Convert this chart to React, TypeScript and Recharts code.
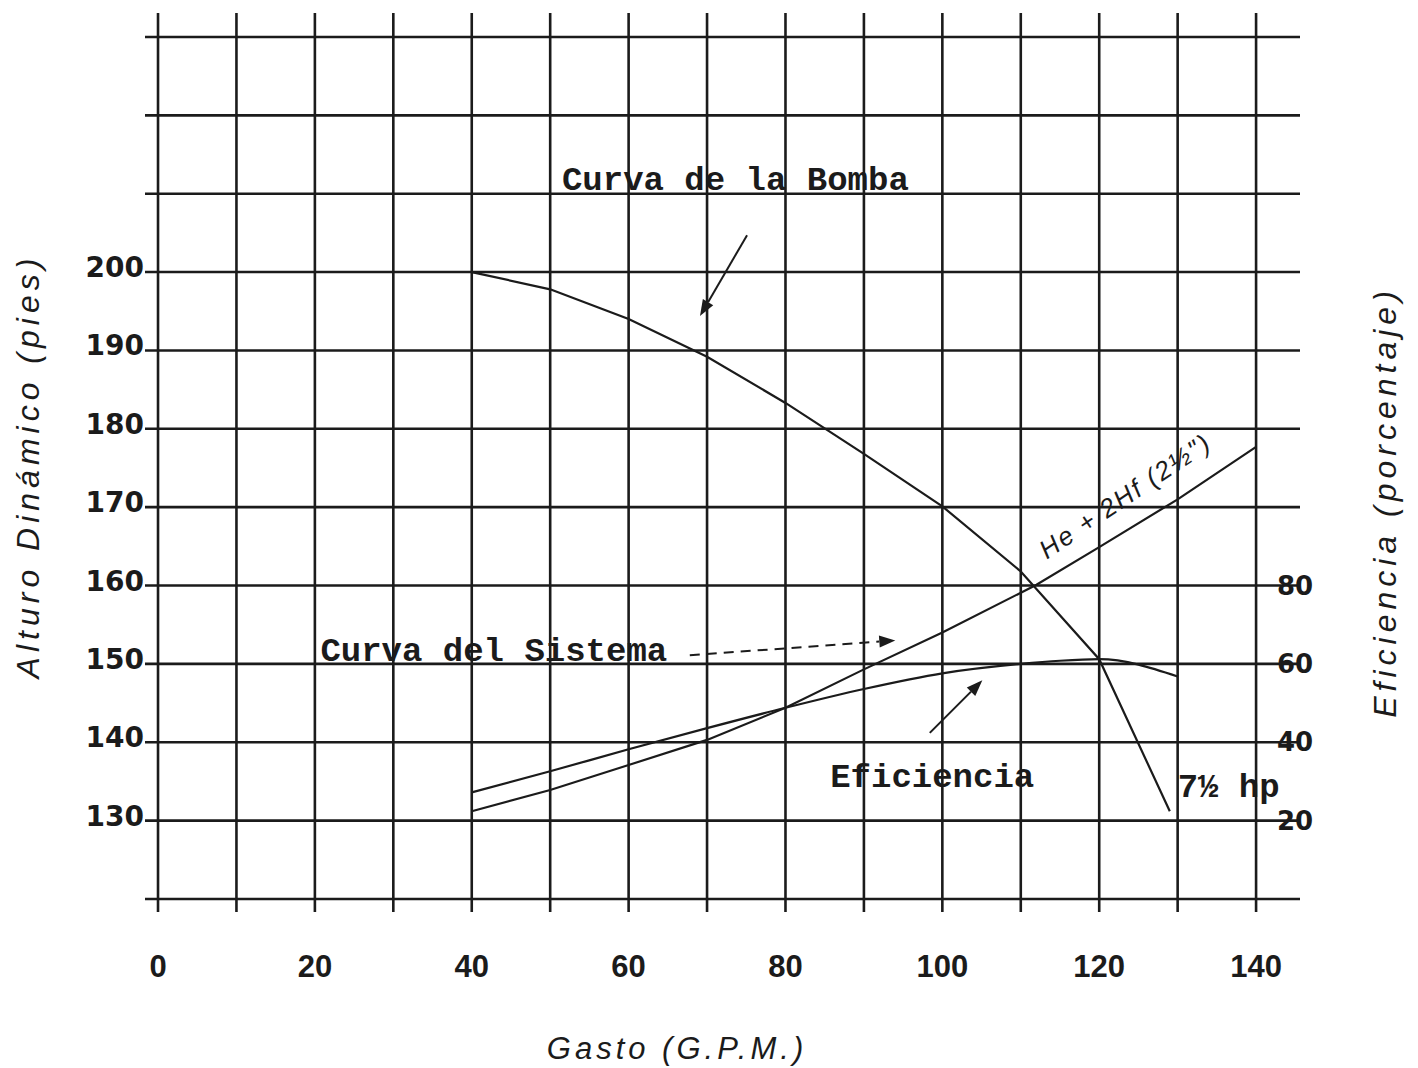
import React from 'react';
import { LineChart, Line, XAxis, YAxis, CartesianGrid, ReferenceDot, ReferenceLine } from 'recharts';

// ---- axes / ticks ----
const xGridTicks = [0, 10, 20, 30, 40, 50, 60, 70, 80, 90, 100, 110, 120, 130, 140];
const xTickLabels = [0, 20, 40, 60, 80, 100, 120, 140];
const headGridTicks = [120, 130, 140, 150, 160, 170, 180, 190, 200, 210, 220, 230];
const headTickLabels = [130, 140, 150, 160, 170, 180, 190, 200];
const effTickLabels = [20, 40, 60, 80];

// ---- Curva de la Bomba (altura, pies) ----
const pumpFlow = [40, 50, 60, 70, 80, 90, 100, 110, 120, 129];
const pumpHead = [200, 197.8, 194, 189.2, 183.3, 176.8, 170.1, 161.8, 150.6, 131.2];

// ---- Curva del Sistema  He + 2Hf (2½") ----
const systemFlow = [40, 50, 60, 70, 80, 90, 100, 112, 120, 130, 140];
const systemHead = [131.2, 133.9, 137.1, 140.3, 144.4, 149.3, 154.0, 160.1, 164.9, 171.0, 177.7];

// ---- Eficiencia (porcentaje) ----
const effFlow = [40, 50, 60, 70, 80, 90, 100, 110, 115, 120, 130];
const effPct = [27.2, 32.6, 38.2, 43.6, 48.8, 53.6, 57.6, 60.0, 60.8, 61.2, 56.8];

const pumpData = pumpFlow.map((x, i) => ({ x, y: pumpHead[i] }));
const systemData = systemFlow.map((x, i) => ({ x, y: systemHead[i] }));
const effData = effFlow.map((x, i) => ({ x, y: effPct[i] }));

const W = 1402;
const H = 1060;
const X_DOMAIN: [number, number] = [-1.66, 145.6];
const HEAD_DOMAIN: [number, number] = [118.34, 233.06];
const EFF_DOMAIN: [number, number] = [(HEAD_DOMAIN[0] - 120) * 2, (HEAD_DOMAIN[1] - 120) * 2];

const INK = '#1b1b1b';
const TYPE_FONT = '"Liberation Mono", "Courier New", monospace';
const HAND_FONT = '"Liberation Sans", "DejaVu Sans", sans-serif';

const XTick = (props: any) => {
  const { x, y, payload } = props;
  if (!xTickLabels.includes(payload.value)) return <g />;
  return (
    <text x={x} y={y + 65} textAnchor="middle" fontFamily='"Liberation Sans", Arial, sans-serif'
      fontWeight="bold" fontSize={31} fill={INK}>{payload.value}</text>
  );
};

const HeadTick = (props: any) => {
  const { x, y, payload } = props;
  if (!headTickLabels.includes(payload.value)) return <g />;
  return (
    <text x={x - 1} y={y + 5} textAnchor="end" fontFamily='"DejaVu Sans", sans-serif'
      fontWeight="bold" fontSize={28} fill={INK}>{payload.value}</text>
  );
};

const EffTick = (props: any) => {
  const { x, y, payload } = props;
  return (
    <text x={x - 5} y={y + 9} textAnchor="middle" fontFamily='"DejaVu Sans", sans-serif'
      fontWeight="bold" fontSize={26} fill={INK}>{payload.value}</text>
  );
};

const makeText = (txt: string, opts: any = {}) => (p: any) => {
  const { cx, cy } = p;
  const rot = opts.rotate ? `rotate(${opts.rotate}, ${cx}, ${cy})` : undefined;
  return (
    <text x={cx} y={cy} transform={rot} textAnchor="start"
      fontFamily={opts.font || TYPE_FONT} fontWeight={opts.weight || 'bold'}
      fontStyle={opts.italic ? 'italic' : 'normal'} fontSize={opts.size || 34}
      letterSpacing={opts.spacing || 0} fill={INK}>{txt}</text>
  );
};

const makeArrow = (dashed: boolean) => (p: any) => {
  const { x1, y1, x2, y2 } = p;
  const ang = Math.atan2(y2 - y1, x2 - x1);
  const L = 16;
  const hw = 6;
  const bx = x2 - L * Math.cos(ang);
  const by = y2 - L * Math.sin(ang);
  const px = -Math.sin(ang) * hw;
  const py = Math.cos(ang) * hw;
  return (
    <g>
      <line x1={x1} y1={y1} x2={bx} y2={by} stroke={INK} strokeWidth={2}
        strokeDasharray={dashed ? '10 7' : undefined} />
      <polygon points={`${x2},${y2} ${bx + px},${by + py} ${bx - px},${by - py}`} fill={INK} />
    </g>
  );
};

const LeftTitle = () => (
  <text x={20} y={458} transform="rotate(-90, 20, 458)" textAnchor="middle" dominantBaseline="central"
    fontFamily={HAND_FONT} fontStyle="italic" fontSize={32} letterSpacing={5} fill={INK}>
    Alturo Dinámico  (pies)
  </text>
);

const RightTitle = () => (
  <text x={1377} y={494} transform="rotate(-90, 1377, 494)" textAnchor="middle" dominantBaseline="central"
    fontFamily={HAND_FONT} fontStyle="italic" fontSize={32} letterSpacing={5} fill={INK}>
    Eficiencia  (porcentaje)
  </text>
);

const BottomTitle = () => (
  <text x={669} y={1040} textAnchor="middle" dominantBaseline="central"
    fontFamily={HAND_FONT} fontStyle="italic" fontSize={31} letterSpacing={4} fill={INK}>
    Gasto  (G.P.M.)
  </text>
);

export default function App() {
  return (
    <div style={{ width: W, height: H, background: '#ffffff' }}>
      <LineChart width={W} height={H} margin={{ top: 5, right: 0, bottom: 0, left: 0 }}>
        <CartesianGrid yAxisId="head" stroke={INK} strokeWidth={2.6} fill="none" syncWithTicks />
        <XAxis dataKey="x" type="number" domain={X_DOMAIN} ticks={xGridTicks} interval={0}
          allowDataOverflow axisLine={false} tickLine={false} tickSize={0} tickMargin={0}
          height={156} tick={<XTick />} label={{ content: () => <BottomTitle /> }} />
        <YAxis yAxisId="head" type="number" domain={HEAD_DOMAIN} ticks={headGridTicks} interval={0}
          allowDataOverflow axisLine={false} tickLine={false} tickSize={0} tickMargin={0}
          width={137} tick={<HeadTick />} label={{ content: () => <LeftTitle /> }} />
        <YAxis yAxisId="eff" orientation="right" type="number" domain={EFF_DOMAIN} ticks={effTickLabels}
          interval={0} allowDataOverflow axisLine={false} tickLine={false} tickSize={0} tickMargin={0}
          width={110} tick={<EffTick />} label={{ content: () => <RightTitle /> }} />

        <Line yAxisId="head" data={pumpData} dataKey="y" type="linear" stroke={INK} strokeWidth={2.2}
          dot={false} isAnimationActive={false} />
        <Line yAxisId="head" data={systemData} dataKey="y" type="linear" stroke={INK} strokeWidth={2.2}
          dot={false} isAnimationActive={false} />
        <Line yAxisId="eff" data={effData} dataKey="y" type="monotone" stroke={INK} strokeWidth={2.2}
          dot={false} isAnimationActive={false} />

        <ReferenceLine yAxisId="head" segment={[{ x: 75.1, y: 204.7 }, { x: 69.1, y: 194.4 }]}
          shape={makeArrow(false)} />
        <ReferenceLine yAxisId="head" segment={[{ x: 67.8, y: 151.1 }, { x: 94.0, y: 153.0 }]}
          shape={makeArrow(true)} />
        <ReferenceLine yAxisId="head" segment={[{ x: 98.4, y: 141.2 }, { x: 105.1, y: 147.9 }]}
          shape={makeArrow(false)} />

        <ReferenceDot yAxisId="head" x={51.5} y={210.5} r={1} shape={makeText('Curva de la Bomba')} />
        <ReferenceDot yAxisId="head" x={20.7} y={150.4} r={1} shape={makeText('Curva del Sistema')} />
        <ReferenceDot yAxisId="head" x={85.7} y={134.3} r={1} shape={makeText('Eficiencia')} />
        <ReferenceDot yAxisId="head" x={130.0} y={133.0} r={1} shape={makeText('7½ hp')} />
        <ReferenceDot yAxisId="head" x={113.3} y={163.3} r={1}
          shape={makeText('He + 2Hf  (2½")', { rotate: -34, font: HAND_FONT, weight: 'normal', italic: true, size: 26, spacing: 2 })} />
      </LineChart>
    </div>
  );
}
